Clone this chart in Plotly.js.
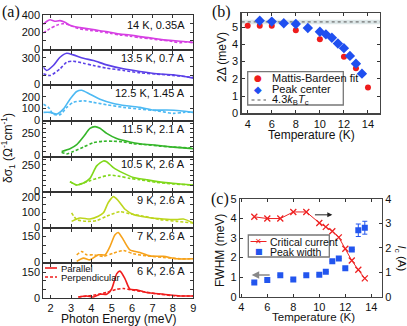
<!DOCTYPE html>
<html>
<head>
<meta charset="utf-8">
<script src="https://cdn.plot.ly/plotly-3.0.1.min.js"></script>
<style>
  html, body { margin: 0; padding: 0; background: #fff; }
  #fig { width: 407px; height: 326px; }
</style>
</head>
<body>
<div id="fig"></div>
<script>
// (a) photon energy (meV) and delta sigma_1 (1/(ohm cm))
const e14Par = [1.64, 1.8, 1.97, 2.2, 2.46, 2.7, 2.95, 3.2, 3.44, 3.93, 4.42, 4.91, 5.4, 5.89, 6.38, 6.87, 7.37, 7.86, 8.35, 8.84, 9.0];
const s14Par = [290, 325, 345, 328, 335, 315, 280, 262, 252, 235, 215, 198, 175, 165, 145, 130, 112, 100, 90, 80, 75];
const e14Perp = [1.64, 1.97, 2.3, 2.6, 2.8, 2.95, 3.2, 3.44, 3.93, 4.42, 4.91, 5.4, 5.89, 6.38, 6.87, 7.37, 7.86, 8.35, 8.6, 9.0];
const s14Perp = [188, 240, 280, 298, 292, 280, 255, 238, 220, 205, 185, 165, 150, 132, 120, 105, 92, 72, 82, 75];

const e135Par = [1.64, 1.81, 2.13, 2.46, 2.79, 3.11, 3.61, 4.10, 4.75, 5.57, 6.38, 7.21, 8.02, 9.0];
const s135Par = [195, 158, 214, 307, 352, 334, 296, 270, 221, 176, 146, 120, 109, 71];
const e135Perp = [1.64, 1.97, 2.46, 2.79, 3.11, 3.61, 4.10, 4.75, 5.57, 6.38, 7.21, 8.02, 9.0];
const s135Perp = [120, 101, 176, 251, 262, 240, 214, 184, 158, 131, 116, 101, 79];

const e125Par = [1.64, 1.97, 2.30, 2.62, 2.95, 3.28, 3.52, 3.93, 4.42, 5.08, 5.73, 6.38, 7.04, 7.70, 8.35, 9.0];
const s125Par = [66, 66, 51, 94, 180, 246, 257, 223, 180, 143, 123, 109, 86, 86, 80, 66];
const e125Perp = [1.64, 1.89, 2.13, 2.46, 2.79, 3.11, 3.61, 4.10, 4.75, 5.57, 6.38, 7.21, 8.02, 8.51, 9.0];
const s125Perp = [137, 109, 51, 46, 109, 152, 166, 152, 132, 109, 94, 80, 57, 66, 66];

const e115Par = [2.54, 2.95, 3.28, 3.61, 3.93, 4.18, 4.42, 4.75, 5.24, 5.89, 6.38, 7.21, 8.02, 9.0];
const s115Par = [45, 75, 119, 205, 298, 317, 298, 242, 186, 149, 130, 112, 93, 75];
const e115Perp = [2.54, 2.79, 3.11, 3.61, 4.10, 4.59, 5.08, 5.57, 6.06, 6.71, 7.37, 8.02, 9.0];
const s115Perp = [37, 19, 45, 93, 142, 157, 157, 149, 130, 119, 104, 93, 82];

const e105Par = [2.95, 3.28, 3.61, 3.93, 4.26, 4.59, 4.75, 5.08, 5.57, 6.06, 6.71, 7.53, 8.35, 9.0];
const s105Par = [91, 59, 78, 122, 241, 288, 281, 225, 172, 131, 109, 84, 69, 59];
const e105Perp = [2.95, 3.28, 3.61, 3.93, 4.42, 4.91, 5.40, 5.89, 6.38, 7.21, 8.02, 9.0];
const s105Perp = [91, 59, 78, 100, 131, 153, 141, 122, 109, 84, 69, 59];

const e9Par = [3.03, 3.44, 3.93, 4.34, 4.59, 4.83, 5.08, 5.32, 5.65, 6.06, 6.71, 7.53, 8.18, 8.51, 9.0];
const s9Par = [37, 60, 53, 72, 95, 165, 205, 177, 119, 84, 65, 53, 49, 53, 26];
const e9Perp = [3.03, 3.28, 3.77, 4.26, 4.75, 5.40, 5.89, 6.55, 7.37, 8.18, 9.0];
const s9Perp = [95, 49, 37, 42, 72, 102, 88, 72, 49, 37, 26];

const e7Par = [3.28, 3.61, 3.93, 4.34, 4.67, 4.91, 5.16, 5.32, 5.57, 5.89, 6.38, 6.87, 7.53, 8.18, 9.0];
const s7Par = [6, 25, 15, 44, 44, 92, 160, 173, 131, 73, 58, 38, 35, 21, 21];
const e7Perp = [3.28, 3.52, 3.77, 4.10, 4.59, 5.08, 5.57, 6.06, 6.71, 7.53, 8.35, 9.0];
const s7Perp = [44, 63, 44, 44, 35, 54, 69, 50, 38, 29, 21, 21];

const e6Par = [3.36, 3.77, 4.10, 4.42, 4.75, 4.99, 5.24, 5.40, 5.65, 5.89, 6.22, 6.71, 7.53, 8.35, 9.0];
const s6Par = [6, 12, 6, 22, 22, 51, 140, 156, 111, 51, 47, 32, 22, 12, 12];
const e6Perp = [3.36, 4.10, 4.75, 5.24, 5.57, 5.97, 6.55, 7.37, 8.18, 9.0];
const s6Perp = [6, 16, 32, 51, 55, 47, 36, 22, 12, 12];

const panelLabels = ['14 K, 0.35A', '13.5 K, 0.7 A', '12.5 K, 1.45 A', '11.5 K, 2.1 A',
                     '10.5 K, 2.6 A', '9 K, 2.6 A', '7 K, 2.6 A', '6 K, 2.6 A'];

// (b) gap vs temperature
const tempMB = [4, 5, 6, 8, 10, 12, 13, 14];
const gapMB = [5.08, 5.08, 5.08, 4.82, 4.3, 3.28, 2.62, 1.5];
const tempPeak = [5, 6, 7, 8, 9, 10, 10.5, 11, 11.5, 12, 12.5, 13, 13.5];
const gapPeak = [5.37, 5.32, 5.22, 5.18, 4.95, 4.73, 4.58, 4.38, 4.05, 3.78, 3.33, 2.88, 2.3];
const gapBCS = 5.3;
const gapBCSBand = [5.17, 5.42];

// (c) critical current and peak width vs temperature
const tempC = [5, 6, 7, 8, 9, 10, 10.5, 11, 11.5, 12, 12.5, 13, 13.5];
const critCurrent = [3.27, 3.2, 3.2, 3.47, 3.47, 3.02, 2.86, 2.68, 2.43, 1.96, 1.48, 1.1, 0.75];
const peakWidth = [0.73, 0.86, 1.1, 0.88, 1.1, 1.12, 1.28, 1.82, 1.95, 1.46, 2.42, 3.4, 3.53];
const peakWidthErr = [0, 0, 0, 0, 0, 0, 0, 0, 0, 0, 0, 0.32, 0.33];

const W = 407, H = 326;
const FONT = 'Arial, "Liberation Sans", sans-serif';
const SERIF = '"Times New Roman", "Liberation Serif", serif';
const px = v => v / W;
const py = v => 1 - v / H;

const panels = [
  { par: [e14Par, s14Par], perp: [e14Perp, s14Perp], color: '#d63fe3', ymax: 400, labels: [0, 200, 400], minor: 100 },
  { par: [e135Par, s135Par], perp: [e135Perp, s135Perp], color: '#5b40e8', ymax: 380, labels: [0, 300], minor: 100 },
  { par: [e125Par, s125Par], perp: [e125Perp, s125Perp], color: '#4db9f3', ymax: 290, labels: [0, 100, 200], minor: 100 },
  { par: [e115Par, s115Par], perp: [e115Perp, s115Perp], color: '#35b62a', ymax: 367, labels: [0, 250], minor: 50 },
  { par: [e105Par, s105Par], perp: [e105Perp, s105Perp], color: '#80d81b', ymax: 320, labels: [0, 250], minor: 50 },
  { par: [e9Par, s9Par], perp: [e9Perp, s9Perp], color: '#bdd61d', ymax: 228, labels: [0, 100, 200], minor: 50 },
  { par: [e7Par, s7Par], perp: [e7Perp, s7Perp], color: '#f6a21b', ymax: 195, labels: [0, 150], minor: 50 },
  { par: [e6Par, s6Par], perp: [e6Perp, s6Perp], color: '#f01d1d', ymax: 195, labels: [0, 150], minor: 50 }
];

const axisBase = {
  showline: true, mirror: 'ticks', linecolor: '#333', linewidth: 1,
  ticks: 'inside', ticklen: 3, tickcolor: '#333', tickwidth: 1,
  showgrid: false, zeroline: false,
  tickfont: { size: 11, color: '#111', family: FONT }
};

const data = [];
const layout = {
  width: W, height: H,
  margin: { l: 0, r: 0, t: 0, b: 0 },
  paper_bgcolor: '#fff', plot_bgcolor: '#fff',
  font: { family: FONT, color: '#111' },
  showlegend: false,
  annotations: [],
  shapes: []
};

// text placed by pixel position of its centre (or left edge with xanchor left)
function note(text, x, y, opts) {
  return Object.assign({
    text: text, x: px(x), y: py(y), xref: 'paper', yref: 'paper',
    xanchor: 'center', yanchor: 'middle',
    showarrow: false, font: { size: 12, color: '#111', family: FONT }
  }, opts || {});
}

// ---- panel (a): stacked spectra ----
panels.forEach((p, k) => {
  const s = k === 0 ? '' : String(k + 1);
  const bottom = 298 - (7 - k) * 35.6;
  const top = bottom - 33.6;
  layout['xaxis' + s] = Object.assign({}, axisBase, {
    domain: [px(43.3), px(193.3)], range: [1.64, 9], tick0: 0, dtick: 1,
    anchor: 'y' + s, showticklabels: k === 7
  });
  layout['yaxis' + s] = Object.assign({}, axisBase, {
    domain: [py(bottom), py(top)], range: [0, p.ymax],
    tickmode: 'array', tickvals: p.labels,
    minor: { dtick: p.minor, tick0: 0, ticks: 'inside', ticklen: 3, tickcolor: '#333' },
    anchor: 'x' + s
  });
  data.push({
    x: p.par[0], y: p.par[1], xaxis: 'x' + s, yaxis: 'y' + s,
    type: 'scatter', mode: 'lines', hoverinfo: 'skip',
    line: { color: p.color, width: 1.6, shape: 'spline', smoothing: 0.7 }
  });
  data.push({
    x: p.perp[0], y: p.perp[1], xaxis: 'x' + s, yaxis: 'y' + s,
    type: 'scatter', mode: 'lines', hoverinfo: 'skip',
    line: { color: p.color, width: 1.6, dash: '3px,2px', shape: 'spline', smoothing: 0.7 }
  });
  layout.annotations.push({
    text: panelLabels[k], xref: 'x' + s + ' domain', yref: 'y' + s + ' domain',
    x: 0.955, y: k === 0 ? 0.7 : 0.8, xanchor: 'right', yanchor: 'middle',
    showarrow: false, font: { size: 11, color: '#111', family: FONT }
  });
});

// legend of (a)
layout.shapes.push({ type: 'line', xref: 'paper', yref: 'paper', x0: px(45), x1: px(57), y0: py(268), y1: py(268),
  line: { color: '#f01d1d', width: 1.6 } });
layout.shapes.push({ type: 'line', xref: 'paper', yref: 'paper', x0: px(45), x1: px(57), y0: py(277), y1: py(277),
  line: { color: '#f01d1d', width: 1.6, dash: '3px,2px' } });
layout.annotations.push(note('Parallel', 59, 268, { xanchor: 'left', font: { size: 9.5, color: '#111', family: FONT } }));
layout.annotations.push(note('Perpendicular', 59, 277, { xanchor: 'left', font: { size: 9.5, color: '#111', family: FONT } }));

// titles of (a)
layout.annotations.push(note('δσ<sub>1</sub> (Ω<sup>-1</sup>cm<sup>-1</sup>)', 8, 148, { textangle: -90 }));
layout.annotations.push(note('Photon Energy (meV)', 118, 318.5));
layout.annotations.push(note('(a)', 11, 12, { font: { size: 16, color: '#111', family: SERIF } }));

// ---- panel (b) ----
layout.xaxis9 = Object.assign({}, axisBase, {
  domain: [px(241.7), px(380)], range: [3.5, 15], tick0: 0, dtick: 2, anchor: 'y9',
  linecolor: '#444', linewidth: 1.3
});
layout.yaxis9 = Object.assign({}, axisBase, {
  domain: [py(113.3), py(13.3)], range: [0, 5.8], tick0: 0, dtick: 1, anchor: 'x9',
  linecolor: '#444', linewidth: 1.3
});
layout.shapes.push({ type: 'rect', xref: 'x9 domain', yref: 'y9', x0: 0, x1: 1,
  y0: gapBCSBand[0], y1: gapBCSBand[1], fillcolor: '#dde7e8', line: { width: 0 }, layer: 'below' });
layout.shapes.push({ type: 'line', xref: 'x9 domain', yref: 'y9', x0: 0, x1: 1,
  y0: gapBCS, y1: gapBCS, line: { color: '#555', width: 1, dash: 'dot' }, layer: 'below' });
data.push({
  x: tempMB, y: gapMB, xaxis: 'x9', yaxis: 'y9', type: 'scatter', mode: 'markers',
  marker: { symbol: 'circle', size: 6, color: '#ee1c1c' }, name: 'Mattis-Bardeen fit'
});
data.push({
  x: tempPeak, y: gapPeak, xaxis: 'x9', yaxis: 'y9', type: 'scatter', mode: 'markers',
  marker: { symbol: 'diamond', size: 8, color: '#1f4ff0' }, name: 'Peak center'
});
// legend box of (b)
layout.shapes.push({ type: 'rect', xref: 'paper', yref: 'paper', x0: px(247.7), x1: px(343.3),
  y0: py(105), y1: py(71.7), line: { color: '#777', width: 1.3 }, fillcolor: '#fff', layer: 'above' });
layout.shapes.push({ type: 'line', xref: 'paper', yref: 'paper', x0: px(251.5), x1: px(266), y0: py(100), y1: py(100),
  line: { color: '#555', width: 1, dash: 'dot' }, layer: 'above' });
layout.annotations.push(note('<span style="color:#ee1c1c">●</span>', 258.3, 77.7, { font: { size: 9, family: '"DejaVu Sans"' } }));
layout.annotations.push(note('<span style="color:#1f4ff0">◆</span>', 258.3, 89, { font: { size: 10, family: '"DejaVu Sans"' } }));
layout.annotations.push(note('Mattis-Bardeen fit', 270, 77.7, { xanchor: 'left', font: { size: 11, color: '#111', family: FONT } }));
layout.annotations.push(note('Peak center', 270, 89, { xanchor: 'left', font: { size: 11, color: '#111', family: FONT } }));
layout.annotations.push(note('4.3<i>k</i><sub>B</sub><i>T</i><sub>c</sub>', 270, 100, { xanchor: 'left', font: { size: 11, color: '#111', family: FONT } }));
layout.annotations.push(note('2Δ (meV)', 222, 57, { textangle: -90 }));
layout.annotations.push(note('Temperature (K)', 311.7, 135));
layout.annotations.push(note('(b)', 221, 12, { font: { size: 16, color: '#111', family: SERIF } }));

// ---- panel (c) ----
layout.xaxis10 = Object.assign({}, axisBase, {
  domain: [px(240), px(381.7)], range: [3.9, 14.8], tick0: 0, dtick: 2, anchor: 'y10',
  linecolor: '#444', linewidth: 1.3
});
layout.yaxis10 = Object.assign({}, axisBase, {
  domain: [py(296.7), py(199)], range: [0, 5], tick0: 0, dtick: 1, anchor: 'x10',
  mirror: false, linecolor: '#444', linewidth: 1.3
});
layout.yaxis11 = Object.assign({}, axisBase, {
  overlaying: 'y10', side: 'right', anchor: 'x10', range: [0, 4], tick0: 0, dtick: 1,
  mirror: false, linecolor: '#444', linewidth: 1.3
});
data.push({
  x: tempC, y: peakWidth, xaxis: 'x10', yaxis: 'y10', type: 'scatter', mode: 'markers',
  marker: { symbol: 'square', size: 6, color: '#2255ee' }, name: 'Peak width',
  error_y: { type: 'data', array: peakWidthErr, visible: true, color: '#2255ee', thickness: 1, width: 2.5 }
});
data.push({
  x: tempC, y: critCurrent, xaxis: 'x10', yaxis: 'y11', type: 'scatter', mode: 'lines+markers',
  line: { color: '#ee2222', width: 1 },
  marker: { symbol: 'x-thin', size: 6, line: { color: '#ee2222', width: 1.3 } }, name: 'Critical current'
});
// arrows pointing to the relevant axis
layout.annotations.push({ xref: 'x10', yref: 'y10', axref: 'x10', ayref: 'y10',
  x: 11.0, y: 4.19, ax: 9.55, ay: 4.19, text: '', showarrow: true,
  arrowhead: 2, arrowsize: 1, arrowwidth: 1, arrowcolor: '#222' });
layout.annotations.push({ xref: 'x10', yref: 'y10', axref: 'x10', ayref: 'y10',
  x: 4.8, y: 1.11, ax: 6.3, ay: 1.11, text: '', showarrow: true,
  arrowhead: 2, arrowsize: 1, arrowwidth: 1.5, arrowcolor: '#888' });
// legend box of (c)
layout.shapes.push({ type: 'rect', xref: 'paper', yref: 'paper', x0: px(248.3), x1: px(329.3),
  y0: py(257), y1: py(235), line: { color: '#777', width: 1.3 }, fillcolor: '#fff', layer: 'above' });
layout.shapes.push({ type: 'line', xref: 'paper', yref: 'paper', x0: px(250.5), x1: px(266.5), y0: py(241.5), y1: py(241.5),
  line: { color: '#ee2222', width: 1 }, layer: 'above' });
layout.annotations.push(note('<span style="color:#ee2222">✕</span>', 258.5, 241.5, { font: { size: 8, family: '"DejaVu Sans"' } }));
layout.annotations.push(note('<span style="color:#2255ee">■</span>', 258.5, 251.5, { font: { size: 8, family: '"DejaVu Sans"' } }));
layout.annotations.push(note('Critical current', 267.5, 241.5, { xanchor: 'left', font: { size: 10.5, color: '#111', family: FONT } }));
layout.annotations.push(note('Peak width', 267.5, 251.5, { xanchor: 'left', font: { size: 10.5, color: '#111', family: FONT } }));
layout.annotations.push(note('FWHM (meV)', 220, 251, { textangle: -90 }));
layout.annotations.push(note('<i>I</i><sub>c</sub> (A)', 400.5, 258, { textangle: 90, font: { size: 11.5, color: '#111', family: FONT } }));
layout.annotations.push(note('Temperature (K)', 313, 317, { font: { size: 11.5, color: '#111', family: FONT } }));
layout.annotations.push(note('(c)', 220, 199, { font: { size: 16, color: '#111', family: SERIF } }));

Plotly.newPlot('fig', data, layout, { displayModeBar: false, staticPlot: true });
</script>
</body>
</html>
